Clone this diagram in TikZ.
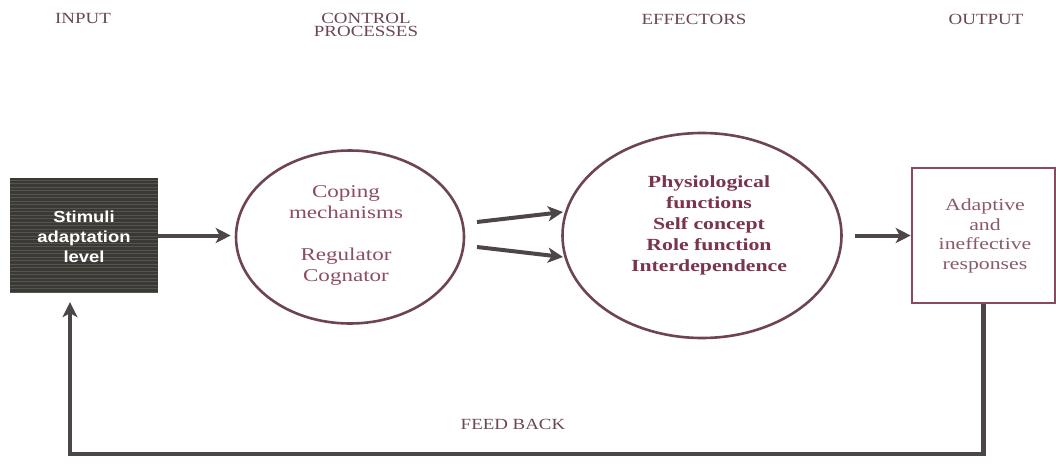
\documentclass[tikz,border=0pt]{standalone}
\usepackage{fontspec}
\setmainfont{Liberation Serif}
\newfontfamily\wideserif[FakeStretch=1.28]{Liberation Serif}
\newfontfamily\capserif[FakeStretch=1.22]{Liberation Serif}
\newfontfamily\widesans[FakeStretch=1.15]{Liberation Sans}
\usetikzlibrary{arrows.meta,shapes.geometric,calc}
\definecolor{hdrcol}{HTML}{6A4658}
\definecolor{copecol}{HTML}{8C4C64}
\definecolor{effcol}{HTML}{7A3450}
\definecolor{rimcol}{HTML}{6E4452}
\definecolor{outcol}{HTML}{8A4A5C}
\definecolor{outtxt}{HTML}{8A5A6A}
\definecolor{arrcol}{HTML}{4D4649}
\definecolor{boxfill}{HTML}{3B3935}
\definecolor{boxline}{HTML}{57544E}
\tikzset{
  header/.style={text=hdrcol, font=\capserif\fontsize{15.5}{13.5}\selectfont, align=center, inner sep=0pt},
  oval/.style={ellipse, draw=rimcol, line width=2.6pt, inner sep=0pt},
  arr/.style={draw=arrcol, line width=4pt, -{Stealth[length=15pt,width=15pt,inset=4pt]}},
  fbline/.style={draw=arrcol, line width=4.2pt, -{Stealth[length=15pt,width=15pt,inset=4pt]}},
}
\begin{document}
\begin{tikzpicture}[x=1pt,y=-1pt]
  \useasboundingbox (0,0) rectangle (1056,463);
  \fill[white] (0,0) rectangle (1056,463);

  % column headings
  \node[header] (hIn)  at (83,19)  {INPUT};
  \node[header] (hCtl) at (366,25) {CONTROL\\PROCESSES};
  \node[header] (hEff) at (694,19) {EFFECTORS};
  \node[header] (hOut) at (986,19) {OUTPUT};

  % input block with its scan-line texture
  \node[fill=boxfill, minimum width=148pt, minimum height=115pt, inner sep=0pt] (inbox) at (84,235.5) {};
  \begin{scope}
    \clip (inbox.north west) rectangle (inbox.south east);
    \foreach \yy in {180,183.5,...,293} {
      \draw[boxline, line width=0.9pt] (10,\yy) -- (158,\yy);
    }
  \end{scope}
  \node[text=white, align=center, font=\widesans\bfseries\fontsize{16}{20}\selectfont] (intxt) at (84,237) {Stimuli\\adaptation\\level};

  % control processes
  \node[oval, minimum width=228pt, minimum height=173pt] (c1) at (350,237) {};
  \node[text=copecol, align=center, font=\wideserif\fontsize{18}{21}\selectfont] (c1txt) at (346,235)
    {Coping\\mechanisms\\[21pt]Regulator\\Cognator};

  % effectors
  \node[oval, minimum width=279pt, minimum height=205pt] (c2) at (702,235.5) {};
  \node[text=effcol, align=center, font=\wideserif\bfseries\fontsize{17}{21}\selectfont] (c2txt) at (709,225)
    {Physiological\\functions\\Self concept\\Role function\\Interdependence};

  % output
  \node[draw=outcol, line width=2.6pt, minimum width=143pt, minimum height=135pt, inner sep=0pt] (out) at (983.5,235.5) {};
  \node[text=outtxt, align=center, font=\wideserif\fontsize{17}{19.5}\selectfont] (outtxt) at (985,236)
    {Adaptive\\and\\ineffective\\responses};

  % forward arrows
  \draw[arr] (inbox.east) -- ($(inbox.east -| c1.west)+(-4,0)$);
  \coordinate (u1) at (477,222);
  \coordinate (u2) at (563,212);
  \coordinate (l1) at (477,247);
  \coordinate (l2) at (563,257);
  \draw[arr] (u1) -- (u2);
  \draw[arr] (l1) -- (l2);
  \draw[arr] ($(c2.east)+(12,0)$) -- (out.west);

  % feedback loop
  \coordinate (fbL) at (70,454);
  \draw[fbline] (out.south) |- (fbL) -- ($(fbL |- inbox.south)+(0,9)$);
  \node[header] (fb) at (513,424) {FEED BACK};
\end{tikzpicture}
\end{document}
